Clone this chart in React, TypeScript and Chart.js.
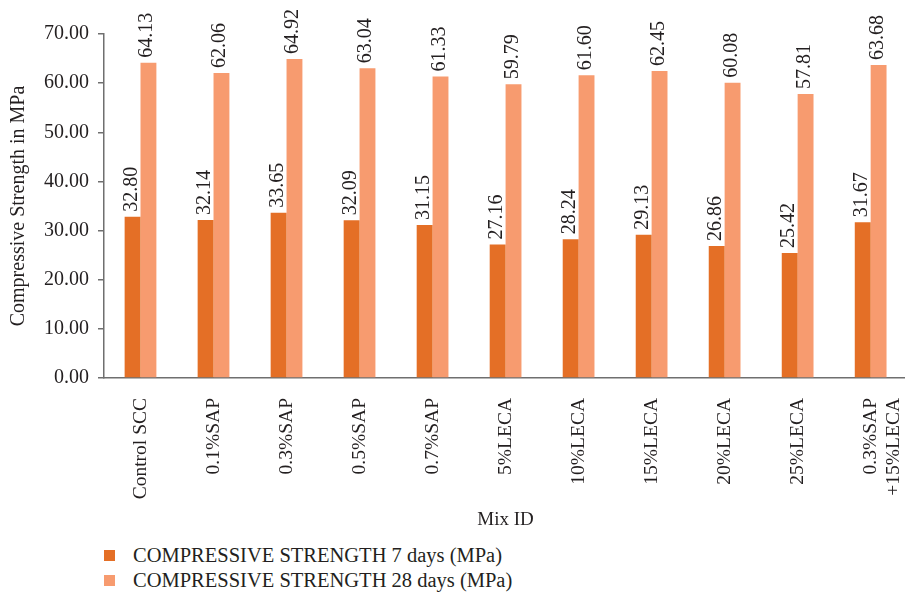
import React, { useEffect, useRef } from "react";
import { Chart, registerables } from "chart.js";

Chart.register(...registerables);

// Mix designs along the x axis
const mixIds: (string | string[])[] = [
  "Control SCC",
  "0.1%SAP",
  "0.3%SAP",
  "0.5%SAP",
  "0.7%SAP",
  "5%LECA",
  "10%LECA",
  "15%LECA",
  "20%LECA",
  "25%LECA",
  ["0.3%SAP", "+15%LECA"],
];

// Compressive strength (MPa)
const strength7Days = [32.8, 32.14, 33.65, 32.09, 31.15, 27.16, 28.24, 29.13, 26.86, 25.42, 31.67];
const strength28Days = [64.13, 62.06, 64.92, 63.04, 61.33, 59.79, 61.6, 62.45, 60.08, 57.81, 63.68];

const seriesNames = ["COMPRESSIVE STRENGTH 7 days (MPa)", "COMPRESSIVE STRENGTH 28 days (MPa)"];
const seriesColors = ["#E46F26", "#F79B6F"];

const yMin = 0;
const yMax = 70;
const yStep = 10;

const FONT = "'Liberation Serif', 'Times New Roman', serif";
const TEXT = "#231f20";
const AXIS = "#6f6f6f";

// Writes each bar's value vertically just above the bar
const valueLabels = {
  id: "valueLabels",
  afterDatasetsDraw(chart: any) {
    const { ctx } = chart;
    ctx.save();
    ctx.font = `20px ${FONT}`;
    ctx.fillStyle = TEXT;
    ctx.textAlign = "left";
    ctx.textBaseline = "alphabetic";
    chart.data.datasets.forEach((ds: any, di: number) => {
      const meta = chart.getDatasetMeta(di);
      meta.data.forEach((bar: any, i: number) => {
        const v = ds.data[i] as number;
        ctx.save();
        ctx.translate(bar.x + 4, bar.y - 5);
        ctx.rotate(-Math.PI / 2);
        ctx.fillText(v.toFixed(2), 0, 0);
        ctx.restore();
      });
    });
    ctx.restore();
  },
};

export default function App() {
  const canvasRef = useRef<HTMLCanvasElement | null>(null);

  useEffect(() => {
    if (!canvasRef.current) return;
    const chart = new Chart(canvasRef.current, {
      type: "bar",
      data: {
        labels: mixIds,
        datasets: [
          {
            label: seriesNames[0],
            data: strength7Days,
            backgroundColor: seriesColors[0],
            borderWidth: 0,
          },
          {
            label: seriesNames[1],
            data: strength28Days,
            backgroundColor: seriesColors[1],
            borderWidth: 0,
          },
        ],
      },
      options: {
        responsive: false,
        animation: false,
        devicePixelRatio: 1,
        layout: { padding: { top: 34, right: 12, left: 0, bottom: 0 } },
        datasets: {
          bar: { categoryPercentage: 0.435, barPercentage: 1 },
        },
        plugins: {
          legend: { display: false },
          tooltip: { enabled: false },
        },
        scales: {
          x: {
            grid: { display: false },
            border: { display: true, color: AXIS, width: 1.5 },
            ticks: {
              color: TEXT,
              font: { family: FONT, size: 19.5 },
              maxRotation: 90,
              minRotation: 90,
              padding: 12,
              autoSkip: false,
            },
            title: {
              display: true,
              text: "Mix ID",
              color: TEXT,
              font: { family: FONT, size: 19 },
              padding: { top: 0, bottom: 9 },
            },
            afterFit(scale: any) {
              scale.height = 162;
            },
          },
          y: {
            min: yMin,
            max: yMax,
            grid: {
              drawOnChartArea: false,
              drawTicks: true,
              tickLength: 6,
              color: AXIS,
              lineWidth: 1.5,
            },
            border: { display: true, color: AXIS, width: 1.5 },
            ticks: {
              stepSize: yStep,
              color: TEXT,
              font: { family: FONT, size: 20 },
              padding: 9,
              callback: (v: any) => Number(v).toFixed(2),
            },
            title: {
              display: true,
              text: "Compressive Strength in MPa",
              color: TEXT,
              font: { family: FONT, size: 20 },
              padding: { top: 7, bottom: 0 },
            },
            afterFit(scale: any) {
              scale.width = 104;
            },
          },
        },
      },
      plugins: [valueLabels],
    });
    return () => chart.destroy();
  }, []);

  return (
    <div
      style={{
        position: "fixed",
        left: 0,
        top: 0,
        width: 905,
        height: 599,
        overflow: "hidden",
        background: "#fff",
      }}
    >
      <canvas ref={canvasRef} width={930} height={540} style={{ display: "block" }} />
      <div style={{ position: "absolute", left: 104, top: 543, fontFamily: FONT, fontSize: 20.5, color: TEXT }}>
        {seriesNames.map((name, i) => (
          <div key={name} style={{ display: "flex", alignItems: "center", height: 25 }}>
            <span
              style={{
                display: "inline-block",
                width: 11,
                height: 11,
                background: seriesColors[i],
                marginRight: 18,
              }}
            />
            <span>{name}</span>
          </div>
        ))}
      </div>
    </div>
  );
}
